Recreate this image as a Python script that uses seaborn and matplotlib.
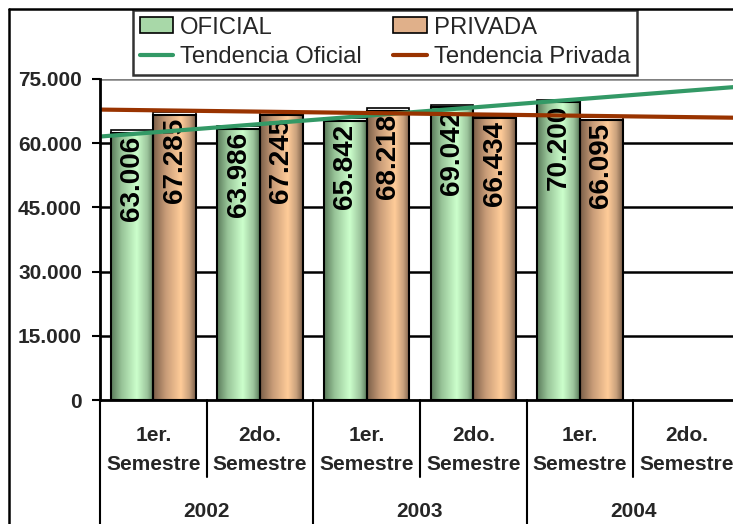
import numpy as np
import pandas as pd
import matplotlib
matplotlib.use("Agg")
import matplotlib.pyplot as plt
import seaborn as sns
from matplotlib.colors import LinearSegmentedColormap
from matplotlib.lines import Line2D
from matplotlib.patches import Patch, Rectangle
from matplotlib import font_manager

# ---------------- data ----------------
periods = ["2002-1", "2002-2", "2003-1", "2003-2", "2004-1", "2004-2"]
sem_top = ["1er.", "2do.", "1er.", "2do.", "1er.", "2do."]
sem_bottom = "Semestre"
years = ["2002", "2003", "2004"]
oficial = [63006, 63986, 65842, 69042, 70200]
privada = [67285, 67245, 68218, 66434, 66095]
series = ["OFICIAL", "PRIVADA"]
trend_names = ["Tendencia Oficial", "Tendencia Privada"]
yticks = [0, 15000, 30000, 45000, 60000, 75000]

df = pd.DataFrame({
    "period": periods[:len(oficial)] * 2,
    "serie": [series[0]] * len(oficial) + [series[1]] * len(privada),
    "value": oficial + privada,
})

# ---------------- style ----------------
sns.set_theme(style="white")
names = {f.name for f in font_manager.fontManager.ttflist}
narrow = "Liberation Sans Narrow" if "Liberation Sans Narrow" in names else "Liberation Sans"
plt.rcParams["font.family"] = ["Liberation Sans", "DejaVu Sans"]

green_mid = "#a8d8a8"
orange_mid = "#e0b08a"
green_cmap = LinearSegmentedColormap.from_list(
    "g", [(0, "#5a7a5a"), (0.25, "#98c498"), (0.6, "#ccffcc"), (0.85, "#9cc49c"), (1, "#5a7a5a")])
orange_cmap = LinearSegmentedColormap.from_list(
    "o", [(0, "#7a5e48"), (0.3, "#c89c78"), (0.65, "#ffcc99"), (0.85, "#c8a07c"), (1, "#7a5e48")])
line_green = "#339966"
line_orange = "#993300"

W, H = 733, 524
fig = plt.figure(figsize=(W / 100, H / 100), dpi=100)
ax = fig.add_axes([100 / W, (H - 400) / H, 640 / W, 321 / H])

sns.barplot(data=df, x="period", y="value", hue="serie", order=periods,
            hue_order=series, palette=[green_mid, orange_mid], width=0.8,
            edgecolor="black", linewidth=1.5, legend=False, ax=ax, zorder=2)

ax.set_xlim(-0.5, 5.5)
ax.set_ylim(0, 75000)
depth = 2.5 / 321 * 75000  # thin 3-D back face above each bar

# gradient fills clipped to bars, value labels inside the top end
for cont, cmap in zip(ax.containers, [green_cmap, orange_cmap]):
    for bar in cont:
        h = bar.get_height()
        if not np.isfinite(h) or h == 0:
            continue
        x0 = bar.get_x()
        x1 = x0 + bar.get_width()
        back = Rectangle((x0, h - 2 * depth), x1 - x0, 2 * depth, facecolor="white",
                         edgecolor="black", lw=1.2, zorder=1.9)
        ax.add_patch(back)
        grad = np.linspace(0, 1, 256).reshape(1, -1)
        im = ax.imshow(grad, cmap=cmap, extent=[x0, x1, 0, h - depth], aspect="auto",
                       origin="lower", zorder=2.1, interpolation="bilinear")
        bar.set_height(h - depth)
        im.set_clip_path(bar)
        bar.set_facecolor("none")
        bar.set_zorder(2.2)
        ax.annotate(f"{h:,.0f}".replace(",", "."), xy=((x0 + x1) / 2, h),
                    xytext=(0, -4), textcoords="offset points",
                    rotation=90, ha="center", va="top", fontsize=20,
                    fontweight="bold", color="black", zorder=3)

# trend lines (linear regression across the full axis)
xs = np.arange(len(oficial))
sns.regplot(x=xs, y=np.array(oficial, float), ci=None, truncate=False, scatter=False,
            line_kws=dict(color=line_green, lw=3, zorder=5), ax=ax)
sns.regplot(x=xs, y=np.array(privada, float), ci=None, truncate=False, scatter=False,
            line_kws=dict(color=line_orange, lw=3, zorder=5), ax=ax)

ax.set_xlim(-0.5, 5.5)
ax.set_ylim(0, 75000)
ax.set_xlabel("")
ax.set_ylabel("")

# y axis
ax.set_yticks(yticks)
ax.set_yticklabels([f"{v:,.0f}".replace(",", ".") for v in yticks],
                   fontsize=15, fontweight="bold")
ax.tick_params(axis="y", left=True, length=6, width=1.5, color="black", pad=7)
ax.set_xticks([])
for v in yticks[1:]:
    ax.axhline(v, color="black" if v < yticks[-1] else "#808080", lw=1.8, zorder=1)
for s in ["top", "right"]:
    ax.spines[s].set_visible(False)
for s in ["left", "bottom"]:
    ax.spines[s].set_color("black")
    ax.spines[s].set_linewidth(2)
    ax.spines[s].set_zorder(6)

# hierarchical x labels
trans = ax.get_xaxis_transform()
for i, t in enumerate(sem_top):
    ax.text(i, -0.112, t, transform=trans, ha="center", va="center",
            fontsize=15, fontweight="bold")
    ax.text(i, -0.202, sem_bottom, transform=trans, ha="center", va="center",
            fontsize=15, fontweight="bold")
for j, y in enumerate(years):
    ax.text(2 * j + 0.5, -0.346, y, transform=trans, ha="center", va="center",
            fontsize=15, fontweight="bold")
for b in [0.5, 2.5, 4.5]:
    ax.add_line(Line2D([b, b], [0, -0.24], transform=trans, color="black",
                       lw=1.5, clip_on=False))
for b in [-0.5, 1.5, 3.5, 5.5]:
    ax.add_line(Line2D([b, b], [0, -0.5], transform=trans, color="black",
                       lw=1.5, clip_on=False))

# outer chart border (top & left visible)
fig.add_artist(Line2D([8.5 / W, 8.5 / W], [0, 1 - 8.5 / H], color="black", lw=1.8))
fig.add_artist(Line2D([8.5 / W, 1], [1 - 8.5 / H, 1 - 8.5 / H], color="black", lw=1.8))

# legend
handles = [
    Patch(facecolor=green_mid, edgecolor="black", lw=1.2),
    Line2D([], [], color=line_green, lw=3),
    Patch(facecolor=orange_mid, edgecolor="black", lw=1.2),
    Line2D([], [], color=line_orange, lw=3),
]
labels = [series[0], trend_names[0], series[1], trend_names[1]]
leg = fig.legend(handles, labels, ncol=2, loc="upper left",
                 bbox_to_anchor=(133 / W, 1 - 10 / H), borderaxespad=0,
                 frameon=True, fancybox=False, edgecolor="black",
                 prop={"family": narrow, "size": 17.2},
                 handlelength=1.4, handleheight=0.65, handletextpad=0.3,
                 columnspacing=1.3, labelspacing=0.3, borderpad=0.28)
leg.get_frame().set_linewidth(1.8)

fig.savefig("out.png", dpi=100)
